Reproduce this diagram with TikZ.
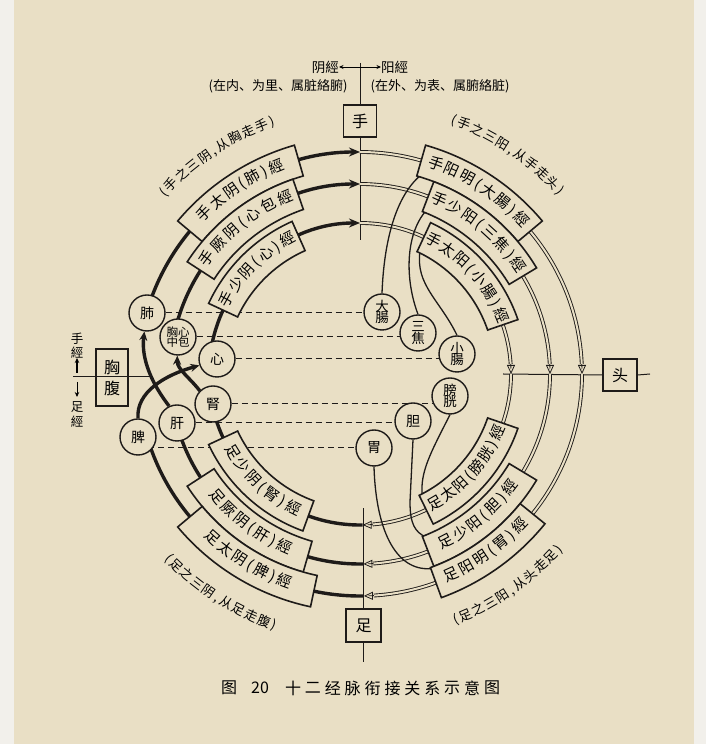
\documentclass[tikz,border=0pt]{standalone}
\usepackage{fontspec}
\setmainfont{Noto Sans CJK SC}
\usetikzlibrary{arrows.meta}
\definecolor{paper}{RGB}{233,223,197}
\definecolor{ink}{RGB}{30,27,25}
\definecolor{edgec}{RGB}{242,240,235}
\newcommand\myfs[1]{\fontsize{#1}{#1}\selectfont}
\newcommand\ringbox[4]{%
  \draw[boxst] (C) ++(#1:#3) arc[start angle=#1,end angle=#2,radius=#3]
    -- ++(#2:{#4-#3}) arc[start angle=#2,end angle=#1,radius=#4] -- cycle;}
\newcommand\arctext[6]{%
  \gdef\mytot{0}%
  \foreach \ch/\ww in {#6}{\pgfmathsetmacro\mytmp{\mytot+\ww}\xdef\mytot{\mytmp}}%
  \gdef\myacc{0}%
  \foreach \ch/\ww in {#6}{%
    \pgfmathsetmacro\mys{(\mytot/2-\myacc-\ww/2)*#4}%
    \pgfmathsetmacro\myang{#2+(#3)*\mys/#1*180/pi}%
    \pgfmathsetmacro\myrot{\myang-(#3)*90}%
    \path (C) ++(\myang:#1) node[rotate=\myrot,inner sep=0pt,text height=0.86em,text depth=0.14em,font=\myfs{#5}] {\ch};%
    \pgfmathsetmacro\mytmp{\myacc+\ww}\xdef\myacc{\mytmp}}%
}
\newcommand\yangarc[3]{%
  \pgfmathsetmacro\mydd{10/#1*180/pi}%
  \pgfmathsetmacro\mymid{#3+\mydd}%
  \draw[yang] (C) ++(#2:#1) arc[start angle=#2,end angle=\mymid,radius=#1];
  \draw[draw=ink,line width=0.8pt,-{Triangle[open,length=9pt,width=8pt]}] (C) ++(\mymid:#1) arc[start angle=\mymid,end angle=#3,radius=#1];}
\begin{document}
\begin{tikzpicture}[x=1pt,y=1pt,
  yin/.style={draw=ink,line width=3.4pt},
  yinarrow/.style={-{Stealth[length=11pt,width=9pt]}},
  yang/.style={draw=ink,line width=0.9pt,double=paper,double distance=2pt},
  thinln/.style={draw=ink,line width=1.3pt},
  dashln/.style={draw=ink,line width=1pt,dash pattern=on 6pt off 4pt},
  axis/.style={draw=ink,line width=1pt},
  organ/.style={circle,draw=ink,line width=1.4pt,fill=paper,minimum size=36pt,inner sep=0pt,font=\myfs{14},align=center},
  organtwo/.style={organ,font=\myfs{13.5}},
  sq/.style={draw=ink,line width=1.3pt,fill=paper,inner sep=0pt,font=\myfs{16},align=center},
  boxst/.style={draw=ink,line width=1.6pt,fill=paper},
  lbl/.style={inner sep=0pt,font=\myfs{13}}
]
\useasboundingbox (0,0) rectangle (706,744);
\fill[paper] (0,0) rectangle (706,744);
\fill[edgec] (0,0) rectangle (14,744);
\fill[edgec] (694,0) rectangle (706,744);
\coordinate (C) at (360,370);

% organ placeholders
\node[organ,draw=none,fill=none] (fei) at (147,431) {};
\node[organ,draw=none,fill=none] (xinbao) at (178,407) {};
\node[organ,draw=none,fill=none] (xin) at (217,385) {};
\node[organ,draw=none,fill=none] (shen) at (213,340) {};
\node[organ,draw=none,fill=none] (gan) at (177,321) {};
\node[organ,draw=none,fill=none] (pi) at (138,307) {};
\node[organ,draw=none,fill=none] (dachang) at (382,432) {};
\node[organ,draw=none,fill=none] (sanjiao) at (418,411) {};
\node[organ,draw=none,fill=none] (xiaochang) at (457,390) {};
\node[organ,draw=none,fill=none] (pangguang) at (450,348) {};
\node[organ,draw=none,fill=none] (dan) at (413,323) {};
\node[organ,draw=none,fill=none] (wei) at (374,296) {};

% square boxes
\node[sq,minimum width=33pt,minimum height=32pt] (shou) at (360,623) {手};
\node[sq,minimum width=35pt,minimum height=33pt] (zu) at (363.5,118.5) {足};
\node[sq,minimum width=34pt,minimum height=32pt] (tou) at (620,369) {头};

% axis lines
\coordinate (topend) at (360,681);
\coordinate (topin) at (360,504);
\coordinate (botend) at (363.5,82);
\coordinate (botin) at (363.5,236);
\coordinate (rin) at (503,370);
\coordinate (rend) at (650,370);
\coordinate (lend) at (73,367);
\coordinate (lin) at (153,367);
\draw[axis] (topend) -- (shou.north);
\draw[axis] (shou.south) -- (topin);
\draw[axis] (zu.south) -- (botend);
\draw[axis] (zu.north) -- (botin);
\draw[axis] (rin) -- (tou.west);
\draw[axis] (tou.east) -- (rend);

% dashed links
\draw[dashln] (fei) -- (fei -| dachang);
\draw[dashln] (xinbao) -- (xinbao -| sanjiao);
\draw[dashln] (xin) -- (xin -| xiaochang);
\draw[dashln] (shen) -- (shen -| pangguang);
\draw[dashln] (gan) -- (gan -| dan);
\draw[dashln] (pi |- wei) -- (wei);

% hand yin
\draw[yin,yinarrow] (C) ++(164:222) arc[start angle=164,end angle=90,radius=222];
\draw[yin,yinarrow] (C) ++(168.5:190) arc[start angle=168.5,end angle=90,radius=190];
\draw[yin,yinarrow] (C) ++(174:151) arc[start angle=174,end angle=90,radius=151];
% foot yin
\draw[yin] (C) ++(271:222) arc[start angle=271,end angle=195.8,radius=222];
\draw[yin] (C) ++(271:190) arc[start angle=271,end angle=195,radius=190];
\draw[yin] (C) ++(271:151) arc[start angle=271,end angle=191.5,radius=151];
% hand yang
\yangarc{222}{90}{0}
\yangarc{190}{90}{0}
\yangarc{151}{90}{0}
% foot yang
\yangarc{222}{360}{271}
\yangarc{190}{360}{271}
\yangarc{151}{360}{271}

% organ-to-organ (yin)
\draw[yin,-{Stealth[length=9pt,width=8pt]}] (pi.north) .. controls (136,352) and (165,369) .. (xin.200);
\draw[yin,-{Stealth[length=9pt,width=8pt]}] (gan.115) .. controls (152,360) and (141,385) .. (fei.262);
\draw[yin,-{Stealth[length=9pt,width=8pt]}] (shen.135) .. controls (190,366) and (177,375) .. (xinbao.268);

% organ-to-meridian (yang)
\draw[thinln] (dachang.north) .. controls (384,504) and (396,548) .. ([shift={(C)}]73:208);
\draw[thinln] (sanjiao.north) .. controls (405,464) and (405,509) .. ([shift={(C)}]68:176);
\draw[thinln] (xiaochang.north) .. controls (440,444) and (415,459) .. ([shift={(C)}]64:137);
\draw[thinln] (pangguang.south) .. controls (430,290) and (420,272) .. ([shift={(C)}]297:137);
\draw[thinln] (dan.south) -- (410,242) .. controls (410,220) and (415,212) .. ([shift={(C)}]292:176);
\draw[thinln] (wei.south) .. controls (376,210) and (398,170) .. ([shift={(C)}]291:208);

% meridian boxes
\ringbox{106}{140}{206}{238}
\ringbox{109}{147}{174}{206}
\ringbox{114}{155}{135}{167}
\ringbox{40}{74}{206}{238}
\ringbox{31}{69}{174}{206}
\ringbox{19}{65}{135}{167}
\ringbox{205}{250}{135}{167}
\ringbox{213}{254}{174}{206}
\ringbox{220}{258}{206}{238}
\ringbox{296}{341}{135}{167}
\ringbox{291}{329}{174}{206}
\ringbox{290}{321}{206}{238}

\arctext{222}{123}{1}{17}{15}{手/1,太/1,阴/1,{(}/0.5,肺/1,{)}/0.5,經/1}
\arctext{190}{128}{1}{18}{15}{手/1,厥/1,阴/1,{(}/0.5,心/1,包/1,經/1}
\arctext{151}{134.5}{1}{17}{15}{手/1,少/1,阴/1,{(}/0.5,心/1,{)}/0.5,經/1}
\arctext{222}{57}{1}{17}{15}{手/1,阳/1,明/1,{(}/0.5,大/1,腸/1,{)}/0.5,經/1}
\arctext{190}{50}{1}{17}{15}{手/1,少/1,阳/1,{(}/0.5,三/1,焦/1,{)}/0.5,經/1}
\arctext{151}{42}{1}{17}{15}{手/1,太/1,阳/1,{(}/0.5,小/1,腸/1,{)}/0.5,經/1}
\arctext{151}{227.5}{-1}{17}{15}{足/1,少/1,阴/1,{(}/0.5,腎/1,{)}/0.5,經/1}
\arctext{190}{233.5}{-1}{17}{15}{足/1,厥/1,阴/1,{(}/0.5,肝/1,{)}/0.5,經/1}
\arctext{222}{239}{-1}{17}{15}{足/1,太/1,阴/1,{(}/0.5,脾/1,{)}/0.5,經/1}
\arctext{151}{318.5}{-1}{16}{15}{足/1,太/1,阳/1,{(}/0.5,膀/1,胱/1,{)}/0.5,經/1}
\arctext{190}{310}{-1}{17}{15}{足/1,少/1,阳/1,{(}/0.5,胆/1,{)}/0.5,經/1}
\arctext{222}{305.5}{-1}{17}{15}{足/1,阳/1,明/1,{(}/0.5,胃/1,{)}/0.5,經/1}

% outside labels
\arctext{266}{123.25}{1}{14.5}{13}{{(}/0.5,手/1,之/1,三/1,阴/1,{,}/0.5,从/1,胸/1,走/1,手/1,{)}/0.5}
\arctext{270}{56}{1}{14.2}{13}{{(}/0.5,手/1,之/1,三/1,阳/1,{,}/0.5,从/1,手/1,走/1,头/1,{)}/0.5}
\arctext{266}{237.5}{-1}{14}{13}{{(}/0.5,足/1,之/1,三/1,阴/1,{,}/0.5,从/1,足/1,走/1,腹/1,{)}/0.5}
\arctext{265}{305}{-1}{14}{13}{{(}/0.5,足/1,之/1,三/1,阳/1,{,}/0.5,从/1,头/1,走/1,足/1,{)}/0.5}

% organ circles
\node[organ] at (fei) {肺};
\node[organ,font=\myfs{11.5}] at (xinbao) {胸心\\[-1pt]中包};
\node[organ] at (xin) {心};
\node[organ] at (shen) {腎};
\node[organ] at (gan) {肝};
\node[organ] at (pi) {脾};
\node[organtwo] at (dachang) {大\\[-2pt]腸};
\node[organtwo] at (sanjiao) {三\\[-2pt]焦};
\node[organtwo] at (xiaochang) {小\\[-2pt]腸};
\node[organtwo] at (pangguang) {膀\\[-2pt]胱};
\node[organ] at (dan) {胆};
\node[organ] at (wei) {胃};

% chest-abdomen box and left axis
\node[sq,fill=none,minimum width=32pt,minimum height=57pt] (xiongfu) at (112,366.5) {胸\\[5pt]腹};
\draw[axis] (lend) -- (lin);

% left side labels
\node[lbl,font=\myfs{12.5}] (sj1) at (77,405) {手};
\node[lbl,font=\myfs{12.5}] (sj2) at (77,391) {經};
\coordinate (ua1) at (77,371);
\coordinate (ua2) at (77,386);
\draw[line width=1.3pt,-{Stealth[length=5pt,width=4.5pt]}] (ua1) -- (ua2);
\coordinate (da1) at (77,362);
\coordinate (da2) at (77,347);
\draw[line width=1pt,-{Stealth[length=5pt,width=4.5pt]}] (da1) -- (da2);
\node[lbl,font=\myfs{12.5}] (zj1) at (77,337) {足};
\node[lbl,font=\myfs{12.5}] (zj2) at (77,322) {經};

% top labels
\node[lbl,anchor=east,font=\myfs{13.5}] (yinj) at (339,677) {阴經};
\node[lbl,anchor=west,font=\myfs{13.5}] (yangj) at (381,677) {阳經};
\coordinate (ax1) at (360,677);
\draw[line width=0.9pt,-{Stealth[length=4.5pt,width=4pt]}] (ax1) -- (yinj.east);
\draw[line width=0.9pt,-{Stealth[length=4.5pt,width=4pt]}] (ax1) -- (yangj.west);
\node[lbl,font=\myfs{13}] at (278,658) {(在内、为里、属脏絡腑)};
\node[lbl,font=\myfs{13}] at (440,658) {(在外、为表、属腑絡脏)};

% caption
\node[lbl,font=\myfs{16}] at (229,56) {图};
\node[lbl,font=\myfs{16}] at (260,56) {20};
\foreach \ch [count=\i from 0] in {十,二,经,脉,衔,接,关,系,示,意,图}
  \node[lbl,font=\myfs{16}] at ({293+19.9*\i},56) {\ch};
\end{tikzpicture}
\end{document}
